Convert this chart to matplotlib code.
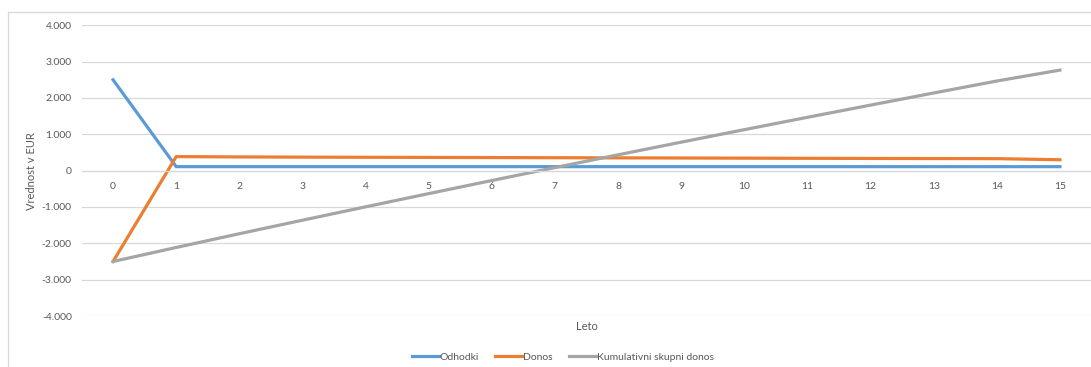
import numpy as np
import matplotlib.pyplot as plt
from matplotlib.lines import Line2D
from matplotlib.ticker import FuncFormatter

plt.rcParams['font.family'] = ['Lato', 'DejaVu Sans']

# Podatki
leta = np.arange(0, 16)
odhodki = [2500, 110, 110, 110, 110, 110, 110, 110, 110, 110, 110, 110, 110, 110, 110, 110]
donos = [-2500, 386, 378, 372, 368, 364, 360, 356, 352, 348, 344, 340, 336, 333, 330, 300]
kumulativni = [-2500, -2114, -1736, -1364, -996, -632, -272, 84, 436, 784,
               1128, 1468, 1804, 2137, 2467, 2767]

W, H = 1091, 367
fig = plt.figure(figsize=(W / 100, H / 100), dpi=100)
ax = fig.add_axes([81.5 / W, 1 - 316 / H, (1091.5 - 81.5) / W, (316 - 25.3) / H])

# Okvir grafa
fig.add_artist(Line2D([8 / W, 1.0], [1 - 12 / H, 1 - 12 / H], transform=fig.transFigure,
                      color='#d9d9d9', lw=0.9))
fig.add_artist(Line2D([8 / W, 8 / W], [0, 1 - 12 / H], transform=fig.transFigure,
                      color='#d9d9d9', lw=0.9))

ax.plot(leta, odhodki, color='#5b9bd5', lw=2.3, label='Odhodki', solid_joinstyle='round')
ax.plot(leta, donos, color='#ed7d31', lw=2.3, label='Donos', solid_joinstyle='round')
ax.plot(leta, kumulativni, color='#a5a5a5', lw=2.3, label='Kumulativni skupni donos',
        solid_joinstyle='round')

ax.set_xlim(-0.5, 15.5)
ax.set_ylim(-4000, 4000)
ax.set_yticks(np.arange(-4000, 4001, 1000))
ax.set_xticks(leta)
ax.yaxis.set_major_formatter(FuncFormatter(lambda v, p: f'{int(v):,}'.replace(',', '.')))

ax.grid(axis='y', color='#d9d9d9', lw=0.9)
ax.set_axisbelow(True)
for s in ['top', 'right', 'left']:
    ax.spines[s].set_visible(False)
ax.spines['bottom'].set_position(('data', 0))
ax.spines['bottom'].set_color('#d9d9d9')
ax.spines['bottom'].set_linewidth(0.9)

ax.tick_params(axis='both', length=0, labelsize=7.5, colors='#595959')
ax.tick_params(axis='x', pad=8)
ax.tick_params(axis='y', pad=7)

ax.set_ylabel('Vrednost v EUR', fontsize=8, color='#595959')
ax.yaxis.set_label_coords(37 / W, 1 - 171 / H, transform=fig.transFigure)
fig.text(587 / W, 1 - 326 / H, 'Leto', ha='center', va='center', fontsize=8, color='#595959')

fig.legend(loc='center', bbox_to_anchor=(563 / W, 1 - 357 / H), ncol=3, frameon=False,
           fontsize=7.5, labelcolor='#595959', handlelength=2.6, handletextpad=0.1,
           columnspacing=1.55)

fig.savefig('out.png', dpi=100)
